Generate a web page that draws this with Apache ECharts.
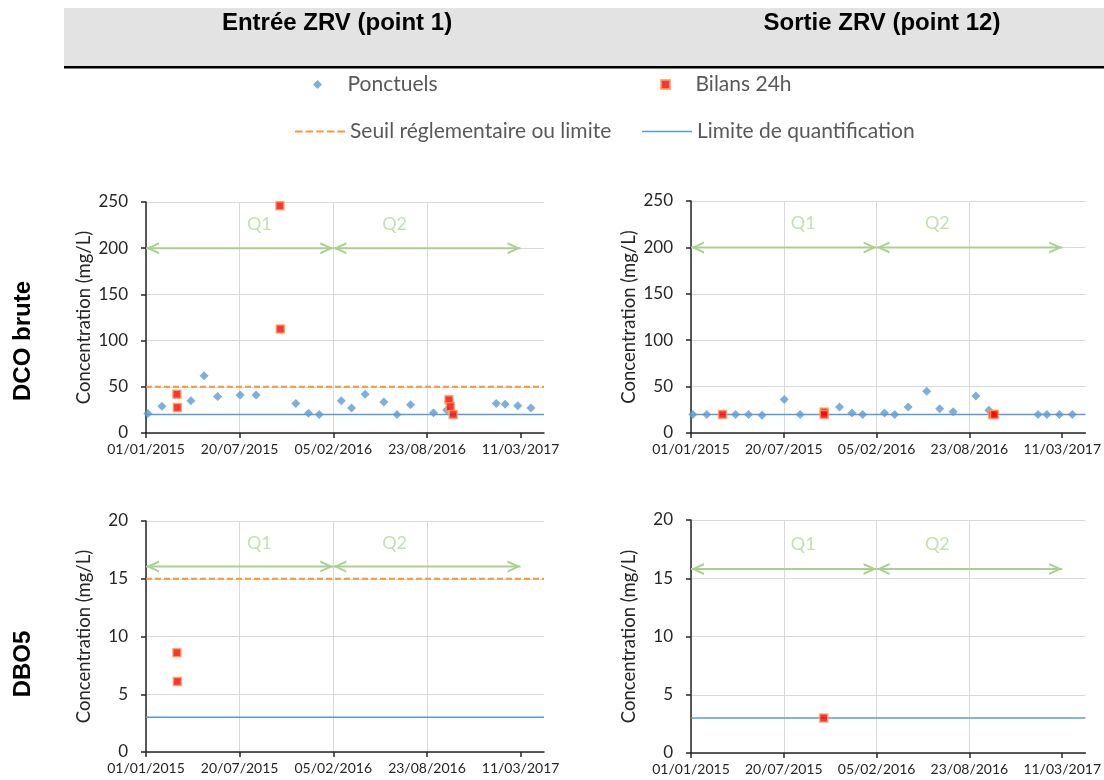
<!DOCTYPE html>
<html>
<head>
<meta charset="utf-8">
<title>ZRV - DCO brute / DBO5</title>
<script src="https://cdn.jsdelivr.net/npm/echarts@6/dist/echarts.min.js"></script>
<style>
  html, body { margin: 0; padding: 0; background: #fff; }
  #chart { width: 1104px; height: 780px; }
</style>
</head>
<body>
<div id="chart"></div>
<script>
////////////////////
// data
////////////////////
// dates des prélèvements ponctuels (mêmes dates entrée / sortie)
var ponctuelDates = ['2015-01-05', '2015-02-04', '2015-04-07', '2015-05-05', '2015-06-03', '2015-07-21',
                     '2015-08-24', '2015-11-17', '2015-12-14', '2016-01-06', '2016-02-22', '2016-03-15',
                     '2016-04-13', '2016-05-23', '2016-06-20', '2016-07-19', '2016-09-06', '2016-10-04',
                     '2017-01-18', '2017-02-06', '2017-03-05', '2017-04-02'];
var dcoEntreePonctuels = [21, 29, 35, 62, 39.5, 41, 41, 32, 21.5, 20, 35, 27,
                          42, 33.5, 20, 30.5, 22, 25, 32, 31, 29.5, 27];
var dcoSortiePonctuels = [20, 20, 20, 20, 19, 36, 20, 28, 21.5, 20, 21.5, 20,
                          28, 45, 26, 23, 40, 24.5, 20, 20, 20, 20];

// bilans 24h
var dcoEntreeBilanDates = ['2015-03-08', '2015-03-09', '2015-10-14', '2015-10-15', '2016-10-09', '2016-10-12', '2016-10-18'];
var dcoEntreeBilans = [42, 27.5, 246, 112.5, 36, 28.5, 20];
var dcoSortieBilanDates = ['2015-03-10', '2015-10-15', '2015-10-15', '2016-10-12', '2016-10-16'];
var dcoSortieBilans = [20, 22.5, 20, 20, 20];
var dboEntreeBilanDates = ['2015-03-08', '2015-03-09'];
var dboEntreeBilans = [8.6, 6.1];
var dboSortieBilanDates = ['2015-10-14'];
var dboSortieBilans = [3];

// seuils et limites de quantification
var seuilDCO = 50, seuilDBO = 15;
var limiteDCO = 20, limiteDBO = 3;

// périodes Q1 / Q2
var periodNames = ['Q1', 'Q2'];
var periodStarts = ['2015-01-01', '2016-02-05'];
var periodEnds = ['2016-02-05', '2017-03-11'];
var periodLabelDates = ['2015-08-31', '2016-06-15'];
var arrowLevels = [200, 200, 16.05, 15.8];
var periodLabelLevels = [226, 226, 18.1, 17.9];

// axes
var xMaxDays = 850, xStepDays = 200;
var xTickDays = [0, 200, 400, 600, 800];
var dcoMax = 250, dcoStep = 50;
var dboMax = 20, dboStep = 5;

var columnTitles = ['Entrée ZRV (point 1)', 'Sortie ZRV (point 12)'];
var rowTitles = ['DCO brute', 'DBO5'];

////////////////////
// helpers
////////////////////
var DAY0 = Date.UTC(2015, 0, 1);
function toDay(s){
    var p = s.split('-');
    return Math.round((Date.UTC(+p[0], +p[1] - 1, +p[2]) - DAY0) / 86400000);
}
function pad(n){ return (n < 10 ? '0' : '') + n; }
function dayLabel(v){
    var d = new Date(DAY0 + v * 86400000);
    return pad(d.getUTCDate()) + '/' + pad(d.getUTCMonth() + 1) + '/' + d.getUTCFullYear();
}
function pairs(dates, vals){
    return dates.map(function(d, i){ return [toDay(d), vals[i]]; });
}

var FONT = 'Lato';
var GREEN = '#a9d18e';
var BLUE = '#5b9bd5';
var ORANGE = '#f59a3c';
var chevron = 'path://M12,0 L0,6 L12,12 L12,9.8 L4.2,6 L12,2.2 Z';

// legend icons : 50 wide paths (empty end points keep the box) so the marker sits centred
var iconDiamond = 'path://M0,5 L0,5 M25,0 L30,5 L25,10 L20,5 Z M50,5 L50,5';
var iconSquare = 'path://M0,5 L0,5 M20,0 H30 V10 H20 Z M50,5 L50,5';
var iconDash = 'path://M0,0 h7 v2 h-7 Z M10,0 h7 v2 h-7 Z M20,0 h7 v2 h-7 Z M30,0 h7 v2 h-7 Z M40,0 h7 v2 h-7 Z';
var iconLine = 'path://M0,0 H50 V1.6 H0 Z';

var panels = [
    {grid: {left: 146, top: 202, width: 398, height: 231}, yMax: dcoMax, yStep: dcoStep,
     ponct: dcoEntreePonctuels, bDates: dcoEntreeBilanDates, bVals: dcoEntreeBilans, seuil: seuilDCO, limite: limiteDCO},
    {grid: {left: 691, top: 201, width: 398, height: 232}, yMax: dcoMax, yStep: dcoStep,
     ponct: dcoSortiePonctuels, bDates: dcoSortieBilanDates, bVals: dcoSortieBilans, seuil: null, limite: limiteDCO},
    {grid: {left: 146, top: 521, width: 398, height: 231}, yMax: dboMax, yStep: dboStep,
     ponct: null, bDates: dboEntreeBilanDates, bVals: dboEntreeBilans, seuil: seuilDBO, limite: limiteDBO},
    {grid: {left: 691, top: 520, width: 398, height: 233}, yMax: dboMax, yStep: dboStep,
     ponct: null, bDates: dboSortieBilanDates, bVals: dboSortieBilans, seuil: null, limite: limiteDBO}
];

var grids = [], xAxes = [], yAxes = [], series = [];

panels.forEach(function(p, i){
    grids.push(p.grid);
    xAxes.push({
        type: 'value', gridIndex: i, min: 0, max: xMaxDays, interval: xStepDays,
        axisLine: {show: true, onZero: false, lineStyle: {color: '#262626', width: 1.5}},
        axisTick: {show: true, length: 5, customValues: xTickDays, lineStyle: {color: '#262626', width: 1.5}},
        axisLabel: {customValues: xTickDays, formatter: dayLabel, margin: 9,
                    color: '#262626', fontFamily: FONT, fontSize: 14},
        splitLine: {show: true, showMaxLine: false, lineStyle: {color: '#d9d9d9', width: 1}}
    });
    yAxes.push({
        type: 'value', gridIndex: i, min: 0, max: p.yMax, interval: p.yStep,
        name: 'Concentration (mg/L)', nameLocation: 'middle', nameGap: 52,
        nameTextStyle: {color: '#262626', fontFamily: FONT, fontSize: 18.5},
        axisLine: {show: true, lineStyle: {color: '#262626', width: 1.5}},
        axisTick: {show: true, length: 5, lineStyle: {color: '#262626', width: 1.5}},
        axisLabel: {margin: 18, color: '#262626', fontFamily: FONT, fontSize: 17},
        splitLine: {show: true, lineStyle: {color: '#d9d9d9', width: 1}}
    });

    // périodes : flèches et libellés
    periodNames.forEach(function(q, k){
        series.push({
            name: 'periode', type: 'line', xAxisIndex: i, yAxisIndex: i, silent: true, z: 1,
            lineStyle: {color: GREEN, width: 2}, itemStyle: {color: GREEN},
            data: [
                {value: [toDay(periodStarts[k]), arrowLevels[i]], symbol: chevron, symbolSize: [13, 12], symbolOffset: ['50%', 0]},
                {value: [toDay(periodEnds[k]), arrowLevels[i]], symbol: chevron, symbolSize: [13, 12], symbolRotate: 180, symbolOffset: ['-50%', 0]}
            ]
        });
    });
    series.push({
        name: 'periode-label', type: 'scatter', xAxisIndex: i, yAxisIndex: i, silent: true,
        symbolSize: 1, itemStyle: {color: 'rgba(0,0,0,0)'},
        label: {show: true, position: 'inside', formatter: '{b}', color: '#b4d89b', fontFamily: FONT, fontSize: 18},
        data: periodNames.map(function(q, k){
            return {name: q, value: [toDay(periodLabelDates[k]), periodLabelLevels[i]]};
        })
    });

    if(p.seuil !== null){
        series.push({
            name: 'Seuil réglementaire ou limite', type: 'line', xAxisIndex: i, yAxisIndex: i,
            symbol: 'none', z: 2, lineStyle: {color: ORANGE, width: 2, type: [6, 3]}, itemStyle: {color: ORANGE},
            data: [[0, p.seuil], [xMaxDays, p.seuil]]
        });
    }
    series.push({
        name: 'Limite de quantification', type: 'line', xAxisIndex: i, yAxisIndex: i,
        symbol: 'none', z: 2, lineStyle: {color: BLUE, width: 1.5}, itemStyle: {color: BLUE},
        data: [[0, p.limite], [xMaxDays, p.limite]]
    });
    if(p.ponct){
        series.push({
            name: 'Ponctuels', type: 'scatter', xAxisIndex: i, yAxisIndex: i, z: 3,
            symbol: 'diamond', symbolSize: 9, itemStyle: {color: BLUE},
            data: pairs(ponctuelDates, p.ponct)
        });
    }
    series.push({
        name: 'Bilans 24h', type: 'scatter', xAxisIndex: i, yAxisIndex: i, z: 4,
        symbol: 'rect', symbolSize: 8,
        itemStyle: {color: '#ff0000', borderColor: '#f7a35c', borderWidth: 1.5},
        data: pairs(p.bDates, p.bVals)
    });
});

function legendAt(name, icon, left, top){
    return {
        data: [{name: name, icon: icon}], left: left, top: top, padding: 0,
        itemWidth: 50, itemHeight: 9, selectedMode: false, symbolKeepAspect: true,
        textStyle: {color: '#595959', fontFamily: FONT, fontSize: 21}
    };
}

var option = {
    animation: false,
    backgroundColor: '#fff',
    grid: grids,
    xAxis: xAxes,
    yAxis: yAxes,
    legend: [
        legendAt('Ponctuels', iconDiamond, 295, 74),
        legendAt('Bilans 24h', iconSquare, 642, 74),
        legendAt('Seuil réglementaire ou limite', iconDash, 295, 121),
        legendAt('Limite de quantification', iconLine, 642, 121)
    ],
    graphic: [
        {type: 'rect', shape: {x: 64, y: 8, width: 1040, height: 58}, style: {fill: '#e3e3e3'}, silent: true},
        {type: 'rect', shape: {x: 64, y: 66, width: 1040, height: 2.5}, style: {fill: '#000'}, silent: true},
        {type: 'text', x: 337, y: 23, style: {text: columnTitles[0], align: 'center', verticalAlign: 'middle',
            fontFamily: 'Liberation Sans', fontWeight: 'bold', fontSize: 24, fill: '#000'}},
        {type: 'text', x: 882, y: 23, style: {text: columnTitles[1], align: 'center', verticalAlign: 'middle',
            fontFamily: 'Liberation Sans', fontWeight: 'bold', fontSize: 24, fill: '#000'}},
        {type: 'text', x: 23, y: 341, rotation: Math.PI / 2, style: {text: rowTitles[0], align: 'center', verticalAlign: 'middle',
            fontFamily: 'Liberation Sans', fontWeight: 'bold', fontSize: 24, fill: '#000'}},
        {type: 'text', x: 23, y: 664, rotation: Math.PI / 2, style: {text: rowTitles[1], align: 'center', verticalAlign: 'middle',
            fontFamily: 'Liberation Sans', fontWeight: 'bold', fontSize: 24, fill: '#000'}}
    ],
    series: series
};

var mychart = echarts.init(document.getElementById('chart'));
mychart.setOption(option);
</script>
</body>
</html>
